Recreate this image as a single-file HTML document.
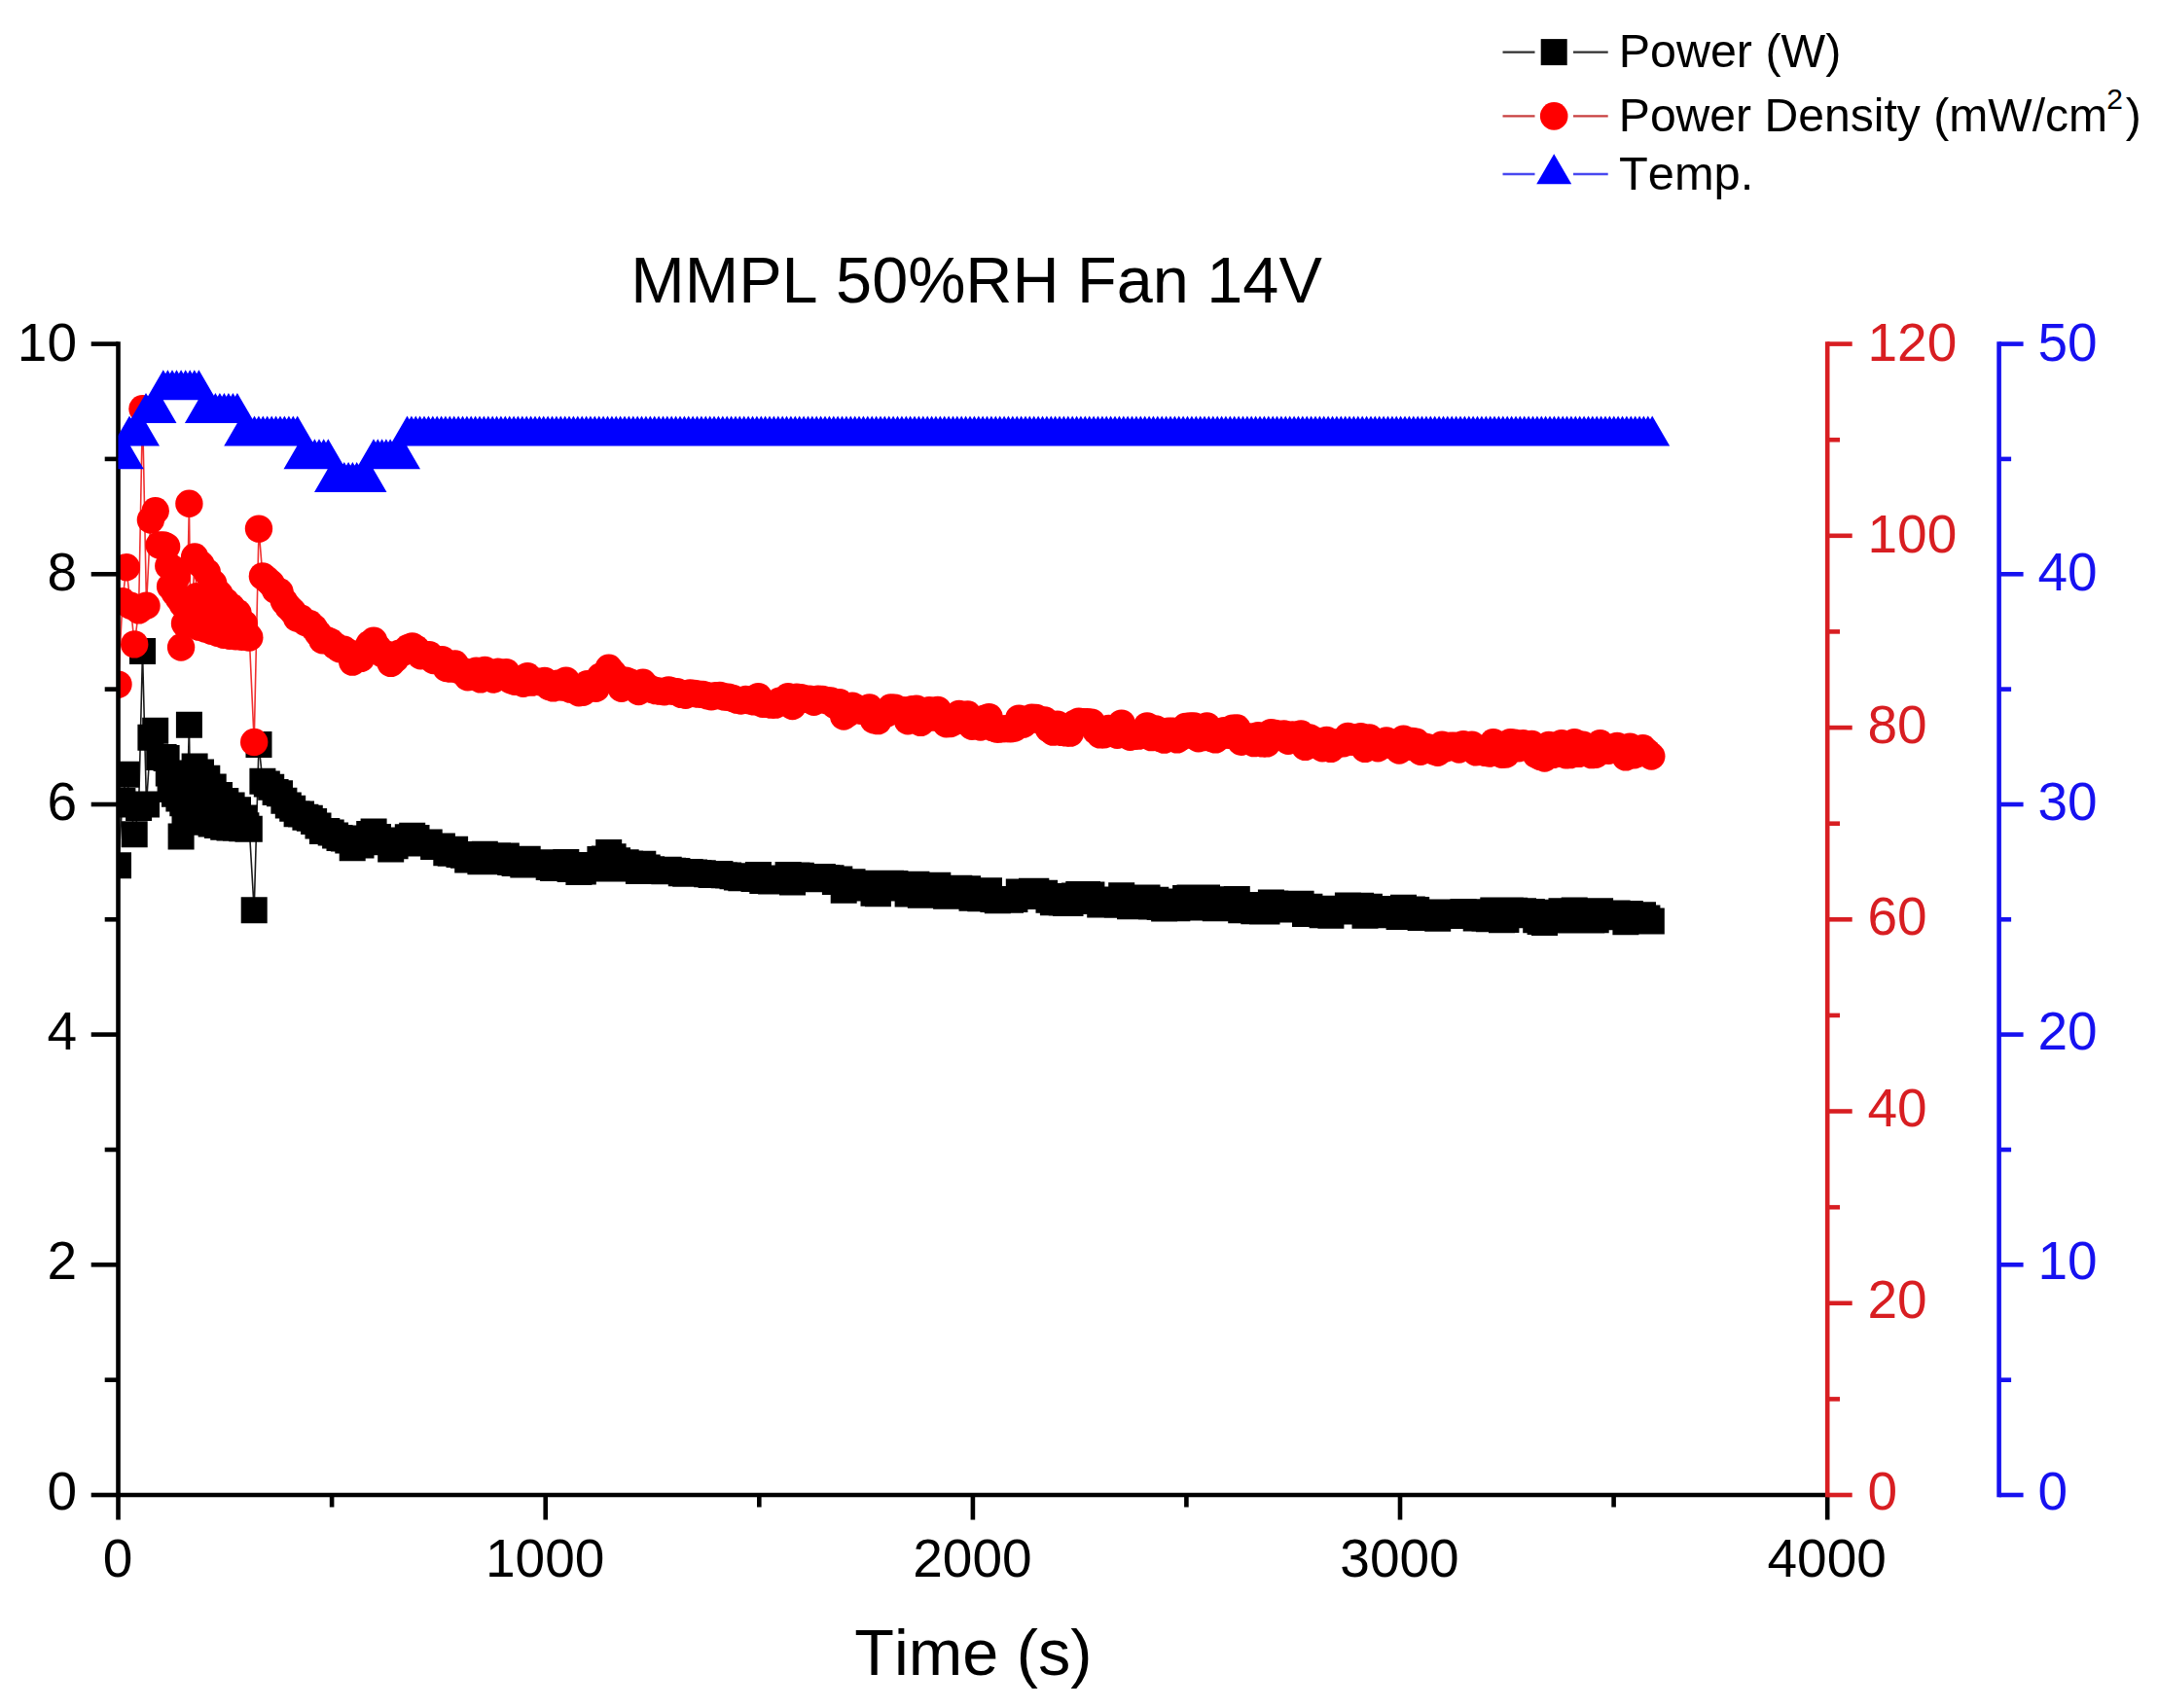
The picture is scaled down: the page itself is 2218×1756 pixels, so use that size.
<!DOCTYPE html>
<html lang="en"><head><meta charset="utf-8"><title>MMPL 50%RH Fan 14V</title>
<style>
html,body{margin:0;padding:0;background:#fff;}
body{width:2218px;height:1756px;overflow:hidden;}
svg{display:block;}
text{font-family:"Liberation Sans",Arial,sans-serif;font-kerning:none;}
.tick{font-size:55px;}
.ttl{font-size:66.6px;}
.leg{font-size:48.4px;}
</style></head><body>
<svg width="2218" height="1756" viewBox="0 0 2218 1756">
<rect x="0" y="0" width="2218" height="1756" fill="#ffffff"/>
<defs><clipPath id="plot"><rect x="121.5" y="340" width="1760" height="1197"/></clipPath></defs>
<g clip-path="url(#plot)">
<path d="M121.5 889.7 L125.9 823.4 L129.8 796.2 L134.2 827 L138.2 857.7 L142.6 830.5 L146.5 669.6 L150.5 827 L154.9 758.3 L159.7 751.2 L163.7 778.4 L168.1 778.4 L171.1 779.6 L173.3 795 L175.1 811.6 L177.3 797.4 L179.5 816.3 L181.7 803.3 L183.9 821 L186.1 860.1 L187.8 825.8 L190 841.2 L192.2 830.5 L194.4 745.3 L195.7 836.4 L197 841.2 L200.1 787.9 L202.3 819.5 L204.4 843.9 L206.5 794.1 L208.6 822.9 L210.7 845.3 L212.8 800.2 L215 827 L217.1 847 L219.2 809 L221.3 831.7 L223.4 848.6 L225.5 817.6 L227.6 836.5 L229.7 850.3 L231.8 823.5 L233.9 839.1 L236 851 L238.1 828.1 L240.3 841.5 L242.4 851.3 L244.5 832.8 L246.6 843.8 L248.7 851.8 L250.8 841 L252.9 848.7 L255 852.2 L256.3 852.3 L261.2 935.8 L266 765.4 L269.9 803.3 L274.3 806.1 L278.7 809.2 L283.1 814.5 L287.5 815.8 L291.9 823.3 L296.3 827.9 L300.7 831.3 L305.1 836.8 L309.5 837 L313.9 840.2 L318.3 841.3 L322.6 844.5 L327 849 L331.4 854.4 L335.8 854.5 L340.2 856 L344.6 859 L349 861.5 L353.4 861.9 L357.8 864.1 L362.2 871.8 L366.6 867.6 L371 869 L375.3 862.6 L379.7 857.5 L384.1 854.9 L388.5 860.6 L392.9 865.4 L397.3 865.7 L401.7 872.9 L406.1 869.7 L410.5 864.8 L414.9 864 L419.3 860.7 L423.7 859.3 L428 861.5 L432.4 867 L436.8 865.9 L441.2 866 L445.6 870.6 L450 870.4 L454.4 869.9 L458.8 876.8 L463.2 877.3 L467.6 873.3 L472 878.6 L476.4 879.3 L480.7 884 L485.1 883.5 L489.5 878.8 L493.9 885.7 L498.3 878.3 L502.7 881.5 L507.1 885.8 L511.5 879.7 L515.9 883.5 L520.3 880 L524.7 886.4 L529.1 887.6 L533.4 885.8 L537.8 889 L542.2 883.3 L546.6 888.1 L551 887.3 L555.4 887.8 L559.8 886.8 L564.2 891.6 L568.6 892.6 L573 889 L577.4 891.9 L581.8 886.6 L586.1 893.6 L590.5 893.6 L594.9 896.4 L599.3 896 L603.7 889.4 L608.1 890 L612.5 893 L616.9 883.5 L621.3 882.9 L625.7 876.5 L630.1 880.7 L634.5 884.8 L638.8 893 L643.2 886.7 L647.6 888 L652 889.9 L656.4 895.5 L660.8 888.3 L665.2 891.9 L669.6 893.7 L674 894.8 L678.4 895.1 L682.8 895.7 L687.2 894.3 L691.5 895.2 L695.9 895.6 L700.3 897.7 L704.7 898.3 L709.1 896.5 L713.5 897 L717.9 897.5 L722.3 897.7 L726.7 898.8 L731.1 899.5 L735.5 898.7 L739.9 898.6 L744.3 899.7 L748.6 899.9 L753 900.8 L757.4 902.1 L761.8 902.8 L766.2 901.6 L770.6 902.8 L775 903.5 L779.4 899.4 L783.8 905.4 L788.2 905.3 L792.6 906 L797 906 L801.3 902.9 L805.7 903.3 L810.1 899.4 L814.5 907.1 L818.9 899.9 L823.3 900.2 L827.7 901.5 L832.1 901.4 L836.5 903.8 L840.9 901.4 L845.3 901.6 L849.7 902.6 L854 902.8 L858.4 906.5 L862.8 904.1 L867.2 915.2 L871.6 912.9 L876 906.8 L880.4 908.6 L884.8 910.7 L889.2 911.1 L893.6 908.3 L898 918.2 L902.4 918.8 L906.7 912.8 L911.1 913.1 L915.5 908.3 L919.9 908.5 L924.3 911.3 L928.7 910.4 L933.1 918.9 L937.5 909.7 L941.9 909.2 L946.3 920.2 L950.7 915.5 L955.1 910.3 L959.4 916.1 L963.8 910.2 L968.2 916.2 L972.6 921.3 L977 921 L981.4 919.4 L985.8 913.2 L990.2 915.5 L994.6 913.7 L999 923.2 L1003.4 920 L1007.8 923.8 L1012.1 916.9 L1016.5 915.7 L1020.9 924.6 L1025.3 925.7 L1029.7 925.3 L1034.1 925.1 L1038.5 925.3 L1042.9 924.6 L1047.3 916.9 L1051.7 921.5 L1056.1 919 L1060.5 916.2 L1064.8 916.3 L1069.2 918.4 L1073.6 918.3 L1078 925.3 L1082.4 927.8 L1086.8 921.6 L1091.2 928 L1095.6 928.4 L1100 928.5 L1104.4 921 L1108.8 919.4 L1113.2 919.7 L1117.5 919.6 L1121.9 920 L1126.3 926.6 L1130.7 929.9 L1135.1 929.8 L1139.5 924.9 L1143.9 928 L1148.3 930.2 L1152.7 920.8 L1157.1 929 L1161.5 931.8 L1165.9 931 L1170.2 930.9 L1174.6 927 L1179 922.9 L1183.4 932 L1187.8 925.3 L1192.2 932.6 L1196.6 933.9 L1201 927 L1205.4 927 L1209.8 933.8 L1214.2 931.8 L1218.6 923.4 L1223 922.9 L1227.3 923.1 L1231.7 932.9 L1236.1 932 L1240.5 922.9 L1244.9 932.8 L1249.3 933.8 L1253.7 931.3 L1258.1 926.6 L1262.5 930.3 L1266.9 924.7 L1271.3 924.6 L1275.7 935.7 L1280 933.1 L1284.4 931.5 L1288.8 936.7 L1293.2 930.5 L1297.6 936.9 L1302 936.9 L1306.4 928.1 L1310.8 928.9 L1315.2 929.7 L1319.6 929.2 L1324 934.9 L1328.4 929.9 L1332.7 932.5 L1337.1 929.2 L1341.5 939.6 L1345.9 932.3 L1350.3 934.2 L1354.7 936.5 L1359.1 940.7 L1363.5 934.3 L1367.9 941.2 L1372.3 936.2 L1376.7 936.9 L1381.1 936.8 L1385.4 931.1 L1389.8 935.6 L1394.2 932 L1398.6 931.3 L1403 941.2 L1407.4 932.3 L1411.8 936.5 L1416.2 940.7 L1420.6 938.3 L1425 934.6 L1429.4 938.1 L1433.8 938.9 L1438.1 942.5 L1442.5 933.2 L1446.9 939.6 L1451.3 935 L1455.7 935.6 L1460.1 943.4 L1464.5 939.5 L1468.9 940.3 L1473.3 943.1 L1477.7 944.2 L1482.1 938 L1486.5 940.7 L1490.8 938.8 L1495.2 938.8 L1499.6 941.6 L1504 937.6 L1508.4 938.9 L1512.8 937.8 L1517.2 943.9 L1521.6 942.1 L1526 944.2 L1530.4 944.8 L1534.8 936.1 L1539.2 941.2 L1543.5 945.8 L1547.9 945.5 L1552.3 936.1 L1556.7 936.3 L1561.1 940.7 L1565.5 936.7 L1569.9 938.3 L1574.3 937.4 L1578.7 945.7 L1583.1 947.4 L1587.5 948.6 L1591.9 938.2 L1596.2 945.9 L1600.6 944.7 L1605 936.7 L1609.4 946.1 L1613.8 946 L1618.2 936 L1622.6 945.1 L1627 938 L1631.4 939.9 L1635.8 946 L1640.2 945.8 L1644.6 936.8 L1649 940.8 L1653.3 942.7 L1657.7 940.3 L1662.1 938.9 L1666.5 940.9 L1670.9 947.8 L1675.3 939.4 L1679.7 946.1 L1684.1 944.7 L1688.5 940.7 L1692.9 943.9 L1697.3 947.1" fill="none" stroke="#1a1a1a" stroke-width="1.6"/>
<path d="M108 876.2h27v27h-27zM112.4 809.9h27v27h-27zM116.3 782.7h27v27h-27zM120.7 813.5h27v27h-27zM124.7 844.2h27v27h-27zM129.1 817h27v27h-27zM133 656.1h27v27h-27zM137 813.5h27v27h-27zM141.4 744.8h27v27h-27zM146.2 737.7h27v27h-27zM150.2 764.9h27v27h-27zM154.6 764.9h27v27h-27zM157.6 766.1h27v27h-27zM159.8 781.5h27v27h-27zM161.6 798.1h27v27h-27zM163.8 783.9h27v27h-27zM166 802.8h27v27h-27zM168.2 789.8h27v27h-27zM170.4 807.5h27v27h-27zM172.6 846.6h27v27h-27zM174.3 812.3h27v27h-27zM176.5 827.7h27v27h-27zM178.7 817h27v27h-27zM180.9 731.8h27v27h-27zM182.2 822.9h27v27h-27zM183.5 827.7h27v27h-27zM186.6 774.4h27v27h-27zM188.8 806h27v27h-27zM190.9 830.4h27v27h-27zM193 780.6h27v27h-27zM195.1 809.4h27v27h-27zM197.2 831.8h27v27h-27zM199.3 786.7h27v27h-27zM201.5 813.5h27v27h-27zM203.6 833.5h27v27h-27zM205.7 795.5h27v27h-27zM207.8 818.2h27v27h-27zM209.9 835.1h27v27h-27zM212 804.1h27v27h-27zM214.1 823h27v27h-27zM216.2 836.8h27v27h-27zM218.3 810h27v27h-27zM220.4 825.6h27v27h-27zM222.5 837.5h27v27h-27zM224.6 814.6h27v27h-27zM226.8 828h27v27h-27zM228.9 837.8h27v27h-27zM231 819.3h27v27h-27zM233.1 830.3h27v27h-27zM235.2 838.3h27v27h-27zM237.3 827.5h27v27h-27zM239.4 835.2h27v27h-27zM241.5 838.7h27v27h-27zM242.8 838.8h27v27h-27zM247.7 922.3h27v27h-27zM252.5 751.9h27v27h-27zM256.4 789.8h27v27h-27zM260.8 792.6h27v27h-27zM265.2 795.7h27v27h-27zM269.6 801h27v27h-27zM274 802.3h27v27h-27zM278.4 809.8h27v27h-27zM282.8 814.4h27v27h-27zM287.2 817.8h27v27h-27zM291.6 823.3h27v27h-27zM296 823.5h27v27h-27zM300.4 826.7h27v27h-27zM304.8 827.8h27v27h-27zM309.1 831h27v27h-27zM313.5 835.5h27v27h-27zM317.9 840.9h27v27h-27zM322.3 841h27v27h-27zM326.7 842.5h27v27h-27zM331.1 845.5h27v27h-27zM335.5 848h27v27h-27zM339.9 848.4h27v27h-27zM344.3 850.6h27v27h-27zM348.7 858.3h27v27h-27zM353.1 854.1h27v27h-27zM357.5 855.5h27v27h-27zM361.8 849.1h27v27h-27zM366.2 844h27v27h-27zM370.6 841.4h27v27h-27zM375 847.1h27v27h-27zM379.4 851.9h27v27h-27zM383.8 852.2h27v27h-27zM388.2 859.4h27v27h-27zM392.6 856.2h27v27h-27zM397 851.3h27v27h-27zM401.4 850.5h27v27h-27zM405.8 847.2h27v27h-27zM410.2 845.8h27v27h-27zM414.5 848h27v27h-27zM418.9 853.5h27v27h-27zM423.3 852.4h27v27h-27zM427.7 852.5h27v27h-27zM432.1 857.1h27v27h-27zM436.5 856.9h27v27h-27zM440.9 856.4h27v27h-27zM445.3 863.3h27v27h-27zM449.7 863.8h27v27h-27zM454.1 859.8h27v27h-27zM458.5 865.1h27v27h-27zM462.9 865.8h27v27h-27zM467.2 870.5h27v27h-27zM471.6 870h27v27h-27zM476 865.3h27v27h-27zM480.4 872.2h27v27h-27zM484.8 864.8h27v27h-27zM489.2 868h27v27h-27zM493.6 872.3h27v27h-27zM498 866.2h27v27h-27zM502.4 870h27v27h-27zM506.8 866.5h27v27h-27zM511.2 872.9h27v27h-27zM515.6 874.1h27v27h-27zM519.9 872.3h27v27h-27zM524.3 875.5h27v27h-27zM528.7 869.8h27v27h-27zM533.1 874.6h27v27h-27zM537.5 873.8h27v27h-27zM541.9 874.3h27v27h-27zM546.3 873.3h27v27h-27zM550.7 878.1h27v27h-27zM555.1 879.1h27v27h-27zM559.5 875.5h27v27h-27zM563.9 878.4h27v27h-27zM568.3 873.1h27v27h-27zM572.6 880.1h27v27h-27zM577 880.1h27v27h-27zM581.4 882.9h27v27h-27zM585.8 882.5h27v27h-27zM590.2 875.9h27v27h-27zM594.6 876.5h27v27h-27zM599 879.5h27v27h-27zM603.4 870h27v27h-27zM607.8 869.4h27v27h-27zM612.2 863h27v27h-27zM616.6 867.2h27v27h-27zM621 871.3h27v27h-27zM625.3 879.5h27v27h-27zM629.7 873.2h27v27h-27zM634.1 874.5h27v27h-27zM638.5 876.4h27v27h-27zM642.9 882h27v27h-27zM647.3 874.8h27v27h-27zM651.7 878.4h27v27h-27zM656.1 880.2h27v27h-27zM660.5 881.3h27v27h-27zM664.9 881.6h27v27h-27zM669.3 882.2h27v27h-27zM673.7 880.8h27v27h-27zM678 881.7h27v27h-27zM682.4 882.1h27v27h-27zM686.8 884.2h27v27h-27zM691.2 884.8h27v27h-27zM695.6 883h27v27h-27zM700 883.5h27v27h-27zM704.4 884h27v27h-27zM708.8 884.2h27v27h-27zM713.2 885.3h27v27h-27zM717.6 886h27v27h-27zM722 885.2h27v27h-27zM726.4 885.1h27v27h-27zM730.8 886.2h27v27h-27zM735.1 886.4h27v27h-27zM739.5 887.3h27v27h-27zM743.9 888.6h27v27h-27zM748.3 889.3h27v27h-27zM752.7 888.1h27v27h-27zM757.1 889.3h27v27h-27zM761.5 890h27v27h-27zM765.9 885.9h27v27h-27zM770.3 891.9h27v27h-27zM774.7 891.8h27v27h-27zM779.1 892.5h27v27h-27zM783.5 892.5h27v27h-27zM787.8 889.4h27v27h-27zM792.2 889.8h27v27h-27zM796.6 885.9h27v27h-27zM801 893.6h27v27h-27zM805.4 886.4h27v27h-27zM809.8 886.7h27v27h-27zM814.2 888h27v27h-27zM818.6 887.9h27v27h-27zM823 890.3h27v27h-27zM827.4 887.9h27v27h-27zM831.8 888.1h27v27h-27zM836.2 889.1h27v27h-27zM840.5 889.3h27v27h-27zM844.9 893h27v27h-27zM849.3 890.6h27v27h-27zM853.7 901.7h27v27h-27zM858.1 899.4h27v27h-27zM862.5 893.3h27v27h-27zM866.9 895.1h27v27h-27zM871.3 897.2h27v27h-27zM875.7 897.6h27v27h-27zM880.1 894.8h27v27h-27zM884.5 904.7h27v27h-27zM888.9 905.3h27v27h-27zM893.2 899.3h27v27h-27zM897.6 899.6h27v27h-27zM902 894.8h27v27h-27zM906.4 895h27v27h-27zM910.8 897.8h27v27h-27zM915.2 896.9h27v27h-27zM919.6 905.4h27v27h-27zM924 896.2h27v27h-27zM928.4 895.7h27v27h-27zM932.8 906.7h27v27h-27zM937.2 902h27v27h-27zM941.6 896.8h27v27h-27zM945.9 902.6h27v27h-27zM950.3 896.7h27v27h-27zM954.7 902.7h27v27h-27zM959.1 907.8h27v27h-27zM963.5 907.5h27v27h-27zM967.9 905.9h27v27h-27zM972.3 899.7h27v27h-27zM976.7 902h27v27h-27zM981.1 900.2h27v27h-27zM985.5 909.7h27v27h-27zM989.9 906.5h27v27h-27zM994.3 910.3h27v27h-27zM998.6 903.4h27v27h-27zM1003 902.2h27v27h-27zM1007.4 911.1h27v27h-27zM1011.8 912.2h27v27h-27zM1016.2 911.8h27v27h-27zM1020.6 911.6h27v27h-27zM1025 911.8h27v27h-27zM1029.4 911.1h27v27h-27zM1033.8 903.4h27v27h-27zM1038.2 908h27v27h-27zM1042.6 905.5h27v27h-27zM1047 902.7h27v27h-27zM1051.3 902.8h27v27h-27zM1055.7 904.9h27v27h-27zM1060.1 904.8h27v27h-27zM1064.5 911.8h27v27h-27zM1068.9 914.3h27v27h-27zM1073.3 908.1h27v27h-27zM1077.7 914.5h27v27h-27zM1082.1 914.9h27v27h-27zM1086.5 915h27v27h-27zM1090.9 907.5h27v27h-27zM1095.3 905.9h27v27h-27zM1099.7 906.2h27v27h-27zM1104 906.1h27v27h-27zM1108.4 906.5h27v27h-27zM1112.8 913.1h27v27h-27zM1117.2 916.4h27v27h-27zM1121.6 916.3h27v27h-27zM1126 911.4h27v27h-27zM1130.4 914.5h27v27h-27zM1134.8 916.7h27v27h-27zM1139.2 907.3h27v27h-27zM1143.6 915.5h27v27h-27zM1148 918.3h27v27h-27zM1152.4 917.5h27v27h-27zM1156.7 917.4h27v27h-27zM1161.1 913.5h27v27h-27zM1165.5 909.4h27v27h-27zM1169.9 918.5h27v27h-27zM1174.3 911.8h27v27h-27zM1178.7 919.1h27v27h-27zM1183.1 920.4h27v27h-27zM1187.5 913.5h27v27h-27zM1191.9 913.5h27v27h-27zM1196.3 920.3h27v27h-27zM1200.7 918.3h27v27h-27zM1205.1 909.9h27v27h-27zM1209.5 909.4h27v27h-27zM1213.8 909.6h27v27h-27zM1218.2 919.4h27v27h-27zM1222.6 918.5h27v27h-27zM1227 909.4h27v27h-27zM1231.4 919.3h27v27h-27zM1235.8 920.3h27v27h-27zM1240.2 917.8h27v27h-27zM1244.6 913.1h27v27h-27zM1249 916.8h27v27h-27zM1253.4 911.2h27v27h-27zM1257.8 911.1h27v27h-27zM1262.2 922.2h27v27h-27zM1266.5 919.6h27v27h-27zM1270.9 918h27v27h-27zM1275.3 923.2h27v27h-27zM1279.7 917h27v27h-27zM1284.1 923.4h27v27h-27zM1288.5 923.4h27v27h-27zM1292.9 914.6h27v27h-27zM1297.3 915.4h27v27h-27zM1301.7 916.2h27v27h-27zM1306.1 915.7h27v27h-27zM1310.5 921.4h27v27h-27zM1314.9 916.4h27v27h-27zM1319.2 919h27v27h-27zM1323.6 915.7h27v27h-27zM1328 926.1h27v27h-27zM1332.4 918.8h27v27h-27zM1336.8 920.7h27v27h-27zM1341.2 923h27v27h-27zM1345.6 927.2h27v27h-27zM1350 920.8h27v27h-27zM1354.4 927.7h27v27h-27zM1358.8 922.7h27v27h-27zM1363.2 923.4h27v27h-27zM1367.6 923.3h27v27h-27zM1371.9 917.6h27v27h-27zM1376.3 922.1h27v27h-27zM1380.7 918.5h27v27h-27zM1385.1 917.8h27v27h-27zM1389.5 927.7h27v27h-27zM1393.9 918.8h27v27h-27zM1398.3 923h27v27h-27zM1402.7 927.2h27v27h-27zM1407.1 924.8h27v27h-27zM1411.5 921.1h27v27h-27zM1415.9 924.6h27v27h-27zM1420.3 925.4h27v27h-27zM1424.6 929h27v27h-27zM1429 919.7h27v27h-27zM1433.4 926.1h27v27h-27zM1437.8 921.5h27v27h-27zM1442.2 922.1h27v27h-27zM1446.6 929.9h27v27h-27zM1451 926h27v27h-27zM1455.4 926.8h27v27h-27zM1459.8 929.6h27v27h-27zM1464.2 930.7h27v27h-27zM1468.6 924.5h27v27h-27zM1473 927.2h27v27h-27zM1477.3 925.3h27v27h-27zM1481.7 925.3h27v27h-27zM1486.1 928.1h27v27h-27zM1490.5 924.1h27v27h-27zM1494.9 925.4h27v27h-27zM1499.3 924.3h27v27h-27zM1503.7 930.4h27v27h-27zM1508.1 928.6h27v27h-27zM1512.5 930.7h27v27h-27zM1516.9 931.3h27v27h-27zM1521.3 922.6h27v27h-27zM1525.7 927.7h27v27h-27zM1530 932.3h27v27h-27zM1534.4 932h27v27h-27zM1538.8 922.6h27v27h-27zM1543.2 922.8h27v27h-27zM1547.6 927.2h27v27h-27zM1552 923.2h27v27h-27zM1556.4 924.8h27v27h-27zM1560.8 923.9h27v27h-27zM1565.2 932.2h27v27h-27zM1569.6 933.9h27v27h-27zM1574 935.1h27v27h-27zM1578.4 924.7h27v27h-27zM1582.7 932.4h27v27h-27zM1587.1 931.2h27v27h-27zM1591.5 923.2h27v27h-27zM1595.9 932.6h27v27h-27zM1600.3 932.5h27v27h-27zM1604.7 922.5h27v27h-27zM1609.1 931.6h27v27h-27zM1613.5 924.5h27v27h-27zM1617.9 926.4h27v27h-27zM1622.3 932.5h27v27h-27zM1626.7 932.3h27v27h-27zM1631.1 923.3h27v27h-27zM1635.5 927.3h27v27h-27zM1639.8 929.2h27v27h-27zM1644.2 926.8h27v27h-27zM1648.6 925.4h27v27h-27zM1653 927.4h27v27h-27zM1657.4 934.3h27v27h-27zM1661.8 925.9h27v27h-27zM1666.2 932.6h27v27h-27zM1670.6 931.2h27v27h-27zM1675 927.2h27v27h-27zM1679.4 930.4h27v27h-27zM1683.8 933.6h27v27h-27z" fill="#000000"/>
<path d="M121.5 703.6 L125.9 618.3 L129.8 583.2 L134.2 622.8 L138.2 662.4 L142.6 627.4 L146.5 420.2 L150.5 622.8 L154.9 534.5 L159.7 525.3 L163.7 560.4 L168.1 560.4 L171.1 561.9 L173.3 581.7 L175.1 603 L177.3 584.7 L179.5 609.1 L181.7 592.4 L183.9 615.2 L186.1 665.5 L187.8 621.3 L190 641.1 L192.2 627.4 L194.4 517.7 L195.7 635 L197 641.1 L200.1 572.5 L202.3 613.2 L204.4 644.6 L206.5 580.5 L208.6 617.6 L210.7 646.4 L212.8 588.4 L215 622.8 L217.1 648.6 L219.2 599.7 L221.3 628.9 L223.4 650.7 L225.5 610.8 L227.6 635.2 L229.7 652.8 L231.8 618.4 L233.9 638.5 L236 653.8 L238.1 624.3 L240.3 641.6 L242.4 654.2 L244.5 630.3 L246.6 644.5 L248.7 654.8 L250.8 641 L252.9 650.9 L255 655.3 L256.3 655.4 L261.2 763 L266 543.6 L269.9 592.4 L274.3 596 L278.7 600 L283.1 606.8 L287.5 608.5 L291.9 618.1 L296.3 624 L300.7 628.5 L305.1 635.5 L309.5 635.8 L313.9 639.9 L318.3 641.3 L322.6 645.4 L327 651.2 L331.4 658.2 L335.8 658.3 L340.2 660.2 L344.6 664.1 L349 667.3 L353.4 667.8 L357.8 670.7 L362.2 680.6 L366.6 675.1 L371 676.9 L375.3 668.7 L379.7 662.1 L384.1 658.8 L388.5 666.1 L392.9 672.3 L397.3 672.6 L401.7 681.9 L406.1 677.8 L410.5 671.6 L414.9 670.5 L419.3 666.2 L423.7 664.4 L428 667.3 L432.4 674.3 L436.8 673 L441.2 673.1 L445.6 679 L450 678.7 L454.4 678.1 L458.8 687 L463.2 687.6 L467.6 682.5 L472 689.3 L476.4 690.2 L480.7 696.3 L485.1 695.7 L489.5 689.6 L493.9 698.4 L498.3 688.9 L502.7 693.1 L507.1 698.5 L511.5 690.8 L515.9 695.7 L520.3 691.1 L524.7 699.3 L529.1 700.8 L533.4 698.5 L537.8 702.7 L542.2 695.3 L546.6 701.6 L551 700.5 L555.4 701.1 L559.8 699.9 L564.2 706 L568.6 707.4 L573 702.7 L577.4 706.5 L581.8 699.6 L586.1 708.6 L590.5 708.6 L594.9 712.3 L599.3 711.7 L603.7 703.3 L608.1 704 L612.5 707.8 L616.9 695.7 L621.3 694.9 L625.7 686.7 L630.1 692 L634.5 697.3 L638.8 707.8 L643.2 699.8 L647.6 701.4 L652 703.9 L656.4 711 L660.8 701.7 L665.2 706.5 L669.6 708.8 L674 710.1 L678.4 710.6 L682.8 711.3 L687.2 709.5 L691.5 710.7 L695.9 711.2 L700.3 713.9 L704.7 714.7 L709.1 712.4 L713.5 713 L717.9 713.6 L722.3 713.9 L726.7 715.3 L731.1 716.2 L735.5 715.2 L739.9 715 L744.3 716.5 L748.6 716.7 L753 717.9 L757.4 719.6 L761.8 720.5 L766.2 719 L770.6 720.5 L775 721.4 L779.4 716.1 L783.8 723.8 L788.2 723.7 L792.6 724.6 L797 724.6 L801.3 720.6 L805.7 721.1 L810.1 716.1 L814.5 726 L818.9 716.7 L823.3 717.1 L827.7 718.8 L832.1 718.7 L836.5 721.7 L840.9 718.7 L845.3 719 L849.7 720.2 L854 720.5 L858.4 725.2 L862.8 722.2 L867.2 736.5 L871.6 733.4 L876 725.7 L880.4 728 L884.8 730.7 L889.2 731.2 L893.6 727.5 L898 740.3 L902.4 741.1 L906.7 733.3 L911.1 733.7 L915.5 727.5 L919.9 727.8 L924.3 731.5 L928.7 730.2 L933.1 741.2 L937.5 729.3 L941.9 728.7 L946.3 742.9 L950.7 736.8 L955.1 730.1 L959.4 737.6 L963.8 729.9 L968.2 737.7 L972.6 744.3 L977 744 L981.4 741.8 L985.8 733.9 L990.2 736.8 L994.6 734.5 L999 746.7 L1003.4 742.6 L1007.8 747.5 L1012.1 738.6 L1016.5 737.1 L1020.9 748.5 L1025.3 749.9 L1029.7 749.4 L1034.1 749.1 L1038.5 749.4 L1042.9 748.5 L1047.3 738.6 L1051.7 744.6 L1056.1 741.4 L1060.5 737.7 L1064.8 737.9 L1069.2 740.6 L1073.6 740.4 L1078 749.4 L1082.4 752.6 L1086.8 744.7 L1091.2 752.9 L1095.6 753.4 L1100 753.6 L1104.4 744 L1108.8 741.8 L1113.2 742.3 L1117.5 742.1 L1121.9 742.6 L1126.3 751.1 L1130.7 755.4 L1135.1 755.2 L1139.5 749 L1143.9 752.9 L1148.3 755.7 L1152.7 743.6 L1157.1 754.2 L1161.5 757.8 L1165.9 756.8 L1170.2 756.6 L1174.6 751.6 L1179 746.4 L1183.4 758.1 L1187.8 749.4 L1192.2 758.9 L1196.6 760.6 L1201 751.6 L1205.4 751.6 L1209.8 760.4 L1214.2 757.8 L1218.6 747 L1223 746.4 L1227.3 746.5 L1231.7 759.2 L1236.1 758.1 L1240.5 746.4 L1244.9 759 L1249.3 760.4 L1253.7 757.2 L1258.1 751.1 L1262.5 755.8 L1266.9 748.7 L1271.3 748.5 L1275.7 762.8 L1280 759.5 L1284.4 757.4 L1288.8 764.1 L1293.2 756.1 L1297.6 764.4 L1302 764.4 L1306.4 753.1 L1310.8 754 L1315.2 755.1 L1319.6 754.5 L1324 761.8 L1328.4 755.4 L1332.7 758.7 L1337.1 754.5 L1341.5 767.9 L1345.9 758.4 L1350.3 760.9 L1354.7 763.9 L1359.1 769.2 L1363.5 761 L1367.9 769.9 L1372.3 763.5 L1376.7 764.4 L1381.1 764.2 L1385.4 756.9 L1389.8 762.7 L1394.2 758.1 L1398.6 757.2 L1403 769.9 L1407.4 758.4 L1411.8 763.9 L1416.2 769.2 L1420.6 766.2 L1425 761.5 L1429.4 765.9 L1433.8 767 L1438.1 771.5 L1442.5 759.6 L1446.9 767.9 L1451.3 761.9 L1455.7 762.7 L1460.1 772.7 L1464.5 767.7 L1468.9 768.8 L1473.3 772.3 L1477.7 773.8 L1482.1 765.7 L1486.5 769.2 L1490.8 766.8 L1495.2 766.8 L1499.6 770.5 L1504 765.3 L1508.4 767 L1512.8 765.6 L1517.2 773.4 L1521.6 771.1 L1526 773.8 L1530.4 774.6 L1534.8 763.3 L1539.2 769.9 L1543.5 775.8 L1547.9 775.5 L1552.3 763.3 L1556.7 763.6 L1561.1 769.2 L1565.5 764.1 L1569.9 766.2 L1574.3 765 L1578.7 775.6 L1583.1 777.9 L1587.5 779.5 L1591.9 766 L1596.2 775.9 L1600.6 774.4 L1605 764.1 L1609.4 776.3 L1613.8 776.1 L1618.2 763.1 L1622.6 774.9 L1627 765.7 L1631.4 768.2 L1635.8 776.1 L1640.2 775.8 L1644.6 764.2 L1649 769.4 L1653.3 771.8 L1657.7 768.8 L1662.1 767 L1666.5 769.5 L1670.9 778.4 L1675.3 767.6 L1679.7 776.3 L1684.1 774.4 L1688.5 769.2 L1692.9 773.4 L1697.3 777.5" fill="none" stroke="#f03030" stroke-width="1.6"/>
<g fill="#ff0000">
<circle cx="121.5" cy="703.6" r="14.2"/>
<circle cx="125.9" cy="618.3" r="14.2"/>
<circle cx="129.8" cy="583.2" r="14.2"/>
<circle cx="134.2" cy="622.8" r="14.2"/>
<circle cx="138.2" cy="662.4" r="14.2"/>
<circle cx="142.6" cy="627.4" r="14.2"/>
<circle cx="146.5" cy="420.2" r="14.2"/>
<circle cx="150.5" cy="622.8" r="14.2"/>
<circle cx="154.9" cy="534.5" r="14.2"/>
<circle cx="159.7" cy="525.3" r="14.2"/>
<circle cx="163.7" cy="560.4" r="14.2"/>
<circle cx="168.1" cy="560.4" r="14.2"/>
<circle cx="171.1" cy="561.9" r="14.2"/>
<circle cx="173.3" cy="581.7" r="14.2"/>
<circle cx="175.1" cy="603" r="14.2"/>
<circle cx="177.3" cy="584.7" r="14.2"/>
<circle cx="179.5" cy="609.1" r="14.2"/>
<circle cx="181.7" cy="592.4" r="14.2"/>
<circle cx="183.9" cy="615.2" r="14.2"/>
<circle cx="186.1" cy="665.5" r="14.2"/>
<circle cx="187.8" cy="621.3" r="14.2"/>
<circle cx="190" cy="641.1" r="14.2"/>
<circle cx="192.2" cy="627.4" r="14.2"/>
<circle cx="194.4" cy="517.7" r="14.2"/>
<circle cx="195.7" cy="635" r="14.2"/>
<circle cx="197" cy="641.1" r="14.2"/>
<circle cx="200.1" cy="572.5" r="14.2"/>
<circle cx="202.3" cy="613.2" r="14.2"/>
<circle cx="204.4" cy="644.6" r="14.2"/>
<circle cx="206.5" cy="580.5" r="14.2"/>
<circle cx="208.6" cy="617.6" r="14.2"/>
<circle cx="210.7" cy="646.4" r="14.2"/>
<circle cx="212.8" cy="588.4" r="14.2"/>
<circle cx="215" cy="622.8" r="14.2"/>
<circle cx="217.1" cy="648.6" r="14.2"/>
<circle cx="219.2" cy="599.7" r="14.2"/>
<circle cx="221.3" cy="628.9" r="14.2"/>
<circle cx="223.4" cy="650.7" r="14.2"/>
<circle cx="225.5" cy="610.8" r="14.2"/>
<circle cx="227.6" cy="635.2" r="14.2"/>
<circle cx="229.7" cy="652.8" r="14.2"/>
<circle cx="231.8" cy="618.4" r="14.2"/>
<circle cx="233.9" cy="638.5" r="14.2"/>
<circle cx="236" cy="653.8" r="14.2"/>
<circle cx="238.1" cy="624.3" r="14.2"/>
<circle cx="240.3" cy="641.6" r="14.2"/>
<circle cx="242.4" cy="654.2" r="14.2"/>
<circle cx="244.5" cy="630.3" r="14.2"/>
<circle cx="246.6" cy="644.5" r="14.2"/>
<circle cx="248.7" cy="654.8" r="14.2"/>
<circle cx="250.8" cy="641" r="14.2"/>
<circle cx="252.9" cy="650.9" r="14.2"/>
<circle cx="255" cy="655.3" r="14.2"/>
<circle cx="256.3" cy="655.4" r="14.2"/>
<circle cx="261.2" cy="763" r="14.2"/>
<circle cx="266" cy="543.6" r="14.2"/>
<circle cx="269.9" cy="592.4" r="14.2"/>
<circle cx="274.3" cy="596" r="14.2"/>
<circle cx="278.7" cy="600" r="14.2"/>
<circle cx="283.1" cy="606.8" r="14.2"/>
<circle cx="287.5" cy="608.5" r="14.2"/>
<circle cx="291.9" cy="618.1" r="14.2"/>
<circle cx="296.3" cy="624" r="14.2"/>
<circle cx="300.7" cy="628.5" r="14.2"/>
<circle cx="305.1" cy="635.5" r="14.2"/>
<circle cx="309.5" cy="635.8" r="14.2"/>
<circle cx="313.9" cy="639.9" r="14.2"/>
<circle cx="318.3" cy="641.3" r="14.2"/>
<circle cx="322.6" cy="645.4" r="14.2"/>
<circle cx="327" cy="651.2" r="14.2"/>
<circle cx="331.4" cy="658.2" r="14.2"/>
<circle cx="335.8" cy="658.3" r="14.2"/>
<circle cx="340.2" cy="660.2" r="14.2"/>
<circle cx="344.6" cy="664.1" r="14.2"/>
<circle cx="349" cy="667.3" r="14.2"/>
<circle cx="353.4" cy="667.8" r="14.2"/>
<circle cx="357.8" cy="670.7" r="14.2"/>
<circle cx="362.2" cy="680.6" r="14.2"/>
<circle cx="366.6" cy="675.1" r="14.2"/>
<circle cx="371" cy="676.9" r="14.2"/>
<circle cx="375.3" cy="668.7" r="14.2"/>
<circle cx="379.7" cy="662.1" r="14.2"/>
<circle cx="384.1" cy="658.8" r="14.2"/>
<circle cx="388.5" cy="666.1" r="14.2"/>
<circle cx="392.9" cy="672.3" r="14.2"/>
<circle cx="397.3" cy="672.6" r="14.2"/>
<circle cx="401.7" cy="681.9" r="14.2"/>
<circle cx="406.1" cy="677.8" r="14.2"/>
<circle cx="410.5" cy="671.6" r="14.2"/>
<circle cx="414.9" cy="670.5" r="14.2"/>
<circle cx="419.3" cy="666.2" r="14.2"/>
<circle cx="423.7" cy="664.4" r="14.2"/>
<circle cx="428" cy="667.3" r="14.2"/>
<circle cx="432.4" cy="674.3" r="14.2"/>
<circle cx="436.8" cy="673" r="14.2"/>
<circle cx="441.2" cy="673.1" r="14.2"/>
<circle cx="445.6" cy="679" r="14.2"/>
<circle cx="450" cy="678.7" r="14.2"/>
<circle cx="454.4" cy="678.1" r="14.2"/>
<circle cx="458.8" cy="687" r="14.2"/>
<circle cx="463.2" cy="687.6" r="14.2"/>
<circle cx="467.6" cy="682.5" r="14.2"/>
<circle cx="472" cy="689.3" r="14.2"/>
<circle cx="476.4" cy="690.2" r="14.2"/>
<circle cx="480.7" cy="696.3" r="14.2"/>
<circle cx="485.1" cy="695.7" r="14.2"/>
<circle cx="489.5" cy="689.6" r="14.2"/>
<circle cx="493.9" cy="698.4" r="14.2"/>
<circle cx="498.3" cy="688.9" r="14.2"/>
<circle cx="502.7" cy="693.1" r="14.2"/>
<circle cx="507.1" cy="698.5" r="14.2"/>
<circle cx="511.5" cy="690.8" r="14.2"/>
<circle cx="515.9" cy="695.7" r="14.2"/>
<circle cx="520.3" cy="691.1" r="14.2"/>
<circle cx="524.7" cy="699.3" r="14.2"/>
<circle cx="529.1" cy="700.8" r="14.2"/>
<circle cx="533.4" cy="698.5" r="14.2"/>
<circle cx="537.8" cy="702.7" r="14.2"/>
<circle cx="542.2" cy="695.3" r="14.2"/>
<circle cx="546.6" cy="701.6" r="14.2"/>
<circle cx="551" cy="700.5" r="14.2"/>
<circle cx="555.4" cy="701.1" r="14.2"/>
<circle cx="559.8" cy="699.9" r="14.2"/>
<circle cx="564.2" cy="706" r="14.2"/>
<circle cx="568.6" cy="707.4" r="14.2"/>
<circle cx="573" cy="702.7" r="14.2"/>
<circle cx="577.4" cy="706.5" r="14.2"/>
<circle cx="581.8" cy="699.6" r="14.2"/>
<circle cx="586.1" cy="708.6" r="14.2"/>
<circle cx="590.5" cy="708.6" r="14.2"/>
<circle cx="594.9" cy="712.3" r="14.2"/>
<circle cx="599.3" cy="711.7" r="14.2"/>
<circle cx="603.7" cy="703.3" r="14.2"/>
<circle cx="608.1" cy="704" r="14.2"/>
<circle cx="612.5" cy="707.8" r="14.2"/>
<circle cx="616.9" cy="695.7" r="14.2"/>
<circle cx="621.3" cy="694.9" r="14.2"/>
<circle cx="625.7" cy="686.7" r="14.2"/>
<circle cx="630.1" cy="692" r="14.2"/>
<circle cx="634.5" cy="697.3" r="14.2"/>
<circle cx="638.8" cy="707.8" r="14.2"/>
<circle cx="643.2" cy="699.8" r="14.2"/>
<circle cx="647.6" cy="701.4" r="14.2"/>
<circle cx="652" cy="703.9" r="14.2"/>
<circle cx="656.4" cy="711" r="14.2"/>
<circle cx="660.8" cy="701.7" r="14.2"/>
<circle cx="665.2" cy="706.5" r="14.2"/>
<circle cx="669.6" cy="708.8" r="14.2"/>
<circle cx="674" cy="710.1" r="14.2"/>
<circle cx="678.4" cy="710.6" r="14.2"/>
<circle cx="682.8" cy="711.3" r="14.2"/>
<circle cx="687.2" cy="709.5" r="14.2"/>
<circle cx="691.5" cy="710.7" r="14.2"/>
<circle cx="695.9" cy="711.2" r="14.2"/>
<circle cx="700.3" cy="713.9" r="14.2"/>
<circle cx="704.7" cy="714.7" r="14.2"/>
<circle cx="709.1" cy="712.4" r="14.2"/>
<circle cx="713.5" cy="713" r="14.2"/>
<circle cx="717.9" cy="713.6" r="14.2"/>
<circle cx="722.3" cy="713.9" r="14.2"/>
<circle cx="726.7" cy="715.3" r="14.2"/>
<circle cx="731.1" cy="716.2" r="14.2"/>
<circle cx="735.5" cy="715.2" r="14.2"/>
<circle cx="739.9" cy="715" r="14.2"/>
<circle cx="744.3" cy="716.5" r="14.2"/>
<circle cx="748.6" cy="716.7" r="14.2"/>
<circle cx="753" cy="717.9" r="14.2"/>
<circle cx="757.4" cy="719.6" r="14.2"/>
<circle cx="761.8" cy="720.5" r="14.2"/>
<circle cx="766.2" cy="719" r="14.2"/>
<circle cx="770.6" cy="720.5" r="14.2"/>
<circle cx="775" cy="721.4" r="14.2"/>
<circle cx="779.4" cy="716.1" r="14.2"/>
<circle cx="783.8" cy="723.8" r="14.2"/>
<circle cx="788.2" cy="723.7" r="14.2"/>
<circle cx="792.6" cy="724.6" r="14.2"/>
<circle cx="797" cy="724.6" r="14.2"/>
<circle cx="801.3" cy="720.6" r="14.2"/>
<circle cx="805.7" cy="721.1" r="14.2"/>
<circle cx="810.1" cy="716.1" r="14.2"/>
<circle cx="814.5" cy="726" r="14.2"/>
<circle cx="818.9" cy="716.7" r="14.2"/>
<circle cx="823.3" cy="717.1" r="14.2"/>
<circle cx="827.7" cy="718.8" r="14.2"/>
<circle cx="832.1" cy="718.7" r="14.2"/>
<circle cx="836.5" cy="721.7" r="14.2"/>
<circle cx="840.9" cy="718.7" r="14.2"/>
<circle cx="845.3" cy="719" r="14.2"/>
<circle cx="849.7" cy="720.2" r="14.2"/>
<circle cx="854" cy="720.5" r="14.2"/>
<circle cx="858.4" cy="725.2" r="14.2"/>
<circle cx="862.8" cy="722.2" r="14.2"/>
<circle cx="867.2" cy="736.5" r="14.2"/>
<circle cx="871.6" cy="733.4" r="14.2"/>
<circle cx="876" cy="725.7" r="14.2"/>
<circle cx="880.4" cy="728" r="14.2"/>
<circle cx="884.8" cy="730.7" r="14.2"/>
<circle cx="889.2" cy="731.2" r="14.2"/>
<circle cx="893.6" cy="727.5" r="14.2"/>
<circle cx="898" cy="740.3" r="14.2"/>
<circle cx="902.4" cy="741.1" r="14.2"/>
<circle cx="906.7" cy="733.3" r="14.2"/>
<circle cx="911.1" cy="733.7" r="14.2"/>
<circle cx="915.5" cy="727.5" r="14.2"/>
<circle cx="919.9" cy="727.8" r="14.2"/>
<circle cx="924.3" cy="731.5" r="14.2"/>
<circle cx="928.7" cy="730.2" r="14.2"/>
<circle cx="933.1" cy="741.2" r="14.2"/>
<circle cx="937.5" cy="729.3" r="14.2"/>
<circle cx="941.9" cy="728.7" r="14.2"/>
<circle cx="946.3" cy="742.9" r="14.2"/>
<circle cx="950.7" cy="736.8" r="14.2"/>
<circle cx="955.1" cy="730.1" r="14.2"/>
<circle cx="959.4" cy="737.6" r="14.2"/>
<circle cx="963.8" cy="729.9" r="14.2"/>
<circle cx="968.2" cy="737.7" r="14.2"/>
<circle cx="972.6" cy="744.3" r="14.2"/>
<circle cx="977" cy="744" r="14.2"/>
<circle cx="981.4" cy="741.8" r="14.2"/>
<circle cx="985.8" cy="733.9" r="14.2"/>
<circle cx="990.2" cy="736.8" r="14.2"/>
<circle cx="994.6" cy="734.5" r="14.2"/>
<circle cx="999" cy="746.7" r="14.2"/>
<circle cx="1003.4" cy="742.6" r="14.2"/>
<circle cx="1007.8" cy="747.5" r="14.2"/>
<circle cx="1012.1" cy="738.6" r="14.2"/>
<circle cx="1016.5" cy="737.1" r="14.2"/>
<circle cx="1020.9" cy="748.5" r="14.2"/>
<circle cx="1025.3" cy="749.9" r="14.2"/>
<circle cx="1029.7" cy="749.4" r="14.2"/>
<circle cx="1034.1" cy="749.1" r="14.2"/>
<circle cx="1038.5" cy="749.4" r="14.2"/>
<circle cx="1042.9" cy="748.5" r="14.2"/>
<circle cx="1047.3" cy="738.6" r="14.2"/>
<circle cx="1051.7" cy="744.6" r="14.2"/>
<circle cx="1056.1" cy="741.4" r="14.2"/>
<circle cx="1060.5" cy="737.7" r="14.2"/>
<circle cx="1064.8" cy="737.9" r="14.2"/>
<circle cx="1069.2" cy="740.6" r="14.2"/>
<circle cx="1073.6" cy="740.4" r="14.2"/>
<circle cx="1078" cy="749.4" r="14.2"/>
<circle cx="1082.4" cy="752.6" r="14.2"/>
<circle cx="1086.8" cy="744.7" r="14.2"/>
<circle cx="1091.2" cy="752.9" r="14.2"/>
<circle cx="1095.6" cy="753.4" r="14.2"/>
<circle cx="1100" cy="753.6" r="14.2"/>
<circle cx="1104.4" cy="744" r="14.2"/>
<circle cx="1108.8" cy="741.8" r="14.2"/>
<circle cx="1113.2" cy="742.3" r="14.2"/>
<circle cx="1117.5" cy="742.1" r="14.2"/>
<circle cx="1121.9" cy="742.6" r="14.2"/>
<circle cx="1126.3" cy="751.1" r="14.2"/>
<circle cx="1130.7" cy="755.4" r="14.2"/>
<circle cx="1135.1" cy="755.2" r="14.2"/>
<circle cx="1139.5" cy="749" r="14.2"/>
<circle cx="1143.9" cy="752.9" r="14.2"/>
<circle cx="1148.3" cy="755.7" r="14.2"/>
<circle cx="1152.7" cy="743.6" r="14.2"/>
<circle cx="1157.1" cy="754.2" r="14.2"/>
<circle cx="1161.5" cy="757.8" r="14.2"/>
<circle cx="1165.9" cy="756.8" r="14.2"/>
<circle cx="1170.2" cy="756.6" r="14.2"/>
<circle cx="1174.6" cy="751.6" r="14.2"/>
<circle cx="1179" cy="746.4" r="14.2"/>
<circle cx="1183.4" cy="758.1" r="14.2"/>
<circle cx="1187.8" cy="749.4" r="14.2"/>
<circle cx="1192.2" cy="758.9" r="14.2"/>
<circle cx="1196.6" cy="760.6" r="14.2"/>
<circle cx="1201" cy="751.6" r="14.2"/>
<circle cx="1205.4" cy="751.6" r="14.2"/>
<circle cx="1209.8" cy="760.4" r="14.2"/>
<circle cx="1214.2" cy="757.8" r="14.2"/>
<circle cx="1218.6" cy="747" r="14.2"/>
<circle cx="1223" cy="746.4" r="14.2"/>
<circle cx="1227.3" cy="746.5" r="14.2"/>
<circle cx="1231.7" cy="759.2" r="14.2"/>
<circle cx="1236.1" cy="758.1" r="14.2"/>
<circle cx="1240.5" cy="746.4" r="14.2"/>
<circle cx="1244.9" cy="759" r="14.2"/>
<circle cx="1249.3" cy="760.4" r="14.2"/>
<circle cx="1253.7" cy="757.2" r="14.2"/>
<circle cx="1258.1" cy="751.1" r="14.2"/>
<circle cx="1262.5" cy="755.8" r="14.2"/>
<circle cx="1266.9" cy="748.7" r="14.2"/>
<circle cx="1271.3" cy="748.5" r="14.2"/>
<circle cx="1275.7" cy="762.8" r="14.2"/>
<circle cx="1280" cy="759.5" r="14.2"/>
<circle cx="1284.4" cy="757.4" r="14.2"/>
<circle cx="1288.8" cy="764.1" r="14.2"/>
<circle cx="1293.2" cy="756.1" r="14.2"/>
<circle cx="1297.6" cy="764.4" r="14.2"/>
<circle cx="1302" cy="764.4" r="14.2"/>
<circle cx="1306.4" cy="753.1" r="14.2"/>
<circle cx="1310.8" cy="754" r="14.2"/>
<circle cx="1315.2" cy="755.1" r="14.2"/>
<circle cx="1319.6" cy="754.5" r="14.2"/>
<circle cx="1324" cy="761.8" r="14.2"/>
<circle cx="1328.4" cy="755.4" r="14.2"/>
<circle cx="1332.7" cy="758.7" r="14.2"/>
<circle cx="1337.1" cy="754.5" r="14.2"/>
<circle cx="1341.5" cy="767.9" r="14.2"/>
<circle cx="1345.9" cy="758.4" r="14.2"/>
<circle cx="1350.3" cy="760.9" r="14.2"/>
<circle cx="1354.7" cy="763.9" r="14.2"/>
<circle cx="1359.1" cy="769.2" r="14.2"/>
<circle cx="1363.5" cy="761" r="14.2"/>
<circle cx="1367.9" cy="769.9" r="14.2"/>
<circle cx="1372.3" cy="763.5" r="14.2"/>
<circle cx="1376.7" cy="764.4" r="14.2"/>
<circle cx="1381.1" cy="764.2" r="14.2"/>
<circle cx="1385.4" cy="756.9" r="14.2"/>
<circle cx="1389.8" cy="762.7" r="14.2"/>
<circle cx="1394.2" cy="758.1" r="14.2"/>
<circle cx="1398.6" cy="757.2" r="14.2"/>
<circle cx="1403" cy="769.9" r="14.2"/>
<circle cx="1407.4" cy="758.4" r="14.2"/>
<circle cx="1411.8" cy="763.9" r="14.2"/>
<circle cx="1416.2" cy="769.2" r="14.2"/>
<circle cx="1420.6" cy="766.2" r="14.2"/>
<circle cx="1425" cy="761.5" r="14.2"/>
<circle cx="1429.4" cy="765.9" r="14.2"/>
<circle cx="1433.8" cy="767" r="14.2"/>
<circle cx="1438.1" cy="771.5" r="14.2"/>
<circle cx="1442.5" cy="759.6" r="14.2"/>
<circle cx="1446.9" cy="767.9" r="14.2"/>
<circle cx="1451.3" cy="761.9" r="14.2"/>
<circle cx="1455.7" cy="762.7" r="14.2"/>
<circle cx="1460.1" cy="772.7" r="14.2"/>
<circle cx="1464.5" cy="767.7" r="14.2"/>
<circle cx="1468.9" cy="768.8" r="14.2"/>
<circle cx="1473.3" cy="772.3" r="14.2"/>
<circle cx="1477.7" cy="773.8" r="14.2"/>
<circle cx="1482.1" cy="765.7" r="14.2"/>
<circle cx="1486.5" cy="769.2" r="14.2"/>
<circle cx="1490.8" cy="766.8" r="14.2"/>
<circle cx="1495.2" cy="766.8" r="14.2"/>
<circle cx="1499.6" cy="770.5" r="14.2"/>
<circle cx="1504" cy="765.3" r="14.2"/>
<circle cx="1508.4" cy="767" r="14.2"/>
<circle cx="1512.8" cy="765.6" r="14.2"/>
<circle cx="1517.2" cy="773.4" r="14.2"/>
<circle cx="1521.6" cy="771.1" r="14.2"/>
<circle cx="1526" cy="773.8" r="14.2"/>
<circle cx="1530.4" cy="774.6" r="14.2"/>
<circle cx="1534.8" cy="763.3" r="14.2"/>
<circle cx="1539.2" cy="769.9" r="14.2"/>
<circle cx="1543.5" cy="775.8" r="14.2"/>
<circle cx="1547.9" cy="775.5" r="14.2"/>
<circle cx="1552.3" cy="763.3" r="14.2"/>
<circle cx="1556.7" cy="763.6" r="14.2"/>
<circle cx="1561.1" cy="769.2" r="14.2"/>
<circle cx="1565.5" cy="764.1" r="14.2"/>
<circle cx="1569.9" cy="766.2" r="14.2"/>
<circle cx="1574.3" cy="765" r="14.2"/>
<circle cx="1578.7" cy="775.6" r="14.2"/>
<circle cx="1583.1" cy="777.9" r="14.2"/>
<circle cx="1587.5" cy="779.5" r="14.2"/>
<circle cx="1591.9" cy="766" r="14.2"/>
<circle cx="1596.2" cy="775.9" r="14.2"/>
<circle cx="1600.6" cy="774.4" r="14.2"/>
<circle cx="1605" cy="764.1" r="14.2"/>
<circle cx="1609.4" cy="776.3" r="14.2"/>
<circle cx="1613.8" cy="776.1" r="14.2"/>
<circle cx="1618.2" cy="763.1" r="14.2"/>
<circle cx="1622.6" cy="774.9" r="14.2"/>
<circle cx="1627" cy="765.7" r="14.2"/>
<circle cx="1631.4" cy="768.2" r="14.2"/>
<circle cx="1635.8" cy="776.1" r="14.2"/>
<circle cx="1640.2" cy="775.8" r="14.2"/>
<circle cx="1644.6" cy="764.2" r="14.2"/>
<circle cx="1649" cy="769.4" r="14.2"/>
<circle cx="1653.3" cy="771.8" r="14.2"/>
<circle cx="1657.7" cy="768.8" r="14.2"/>
<circle cx="1662.1" cy="767" r="14.2"/>
<circle cx="1666.5" cy="769.5" r="14.2"/>
<circle cx="1670.9" cy="778.4" r="14.2"/>
<circle cx="1675.3" cy="767.6" r="14.2"/>
<circle cx="1679.7" cy="776.3" r="14.2"/>
<circle cx="1684.1" cy="774.4" r="14.2"/>
<circle cx="1688.5" cy="769.2" r="14.2"/>
<circle cx="1692.9" cy="773.4" r="14.2"/>
<circle cx="1697.3" cy="777.5" r="14.2"/>
</g>
</g>
<g stroke="#000000" stroke-width="4.6" fill="none">
<line x1="121.5" y1="351.3" x2="121.5" y2="1539.3"/>
<line x1="121.5" y1="1537" x2="1879.7" y2="1537"/>
<line x1="93.7" y1="1537" x2="121.5" y2="1537"/>
<line x1="107.7" y1="1418.7" x2="121.5" y2="1418.7"/>
<line x1="93.7" y1="1300.3" x2="121.5" y2="1300.3"/>
<line x1="107.7" y1="1182" x2="121.5" y2="1182"/>
<line x1="93.7" y1="1063.6" x2="121.5" y2="1063.6"/>
<line x1="107.7" y1="945.3" x2="121.5" y2="945.3"/>
<line x1="93.7" y1="827" x2="121.5" y2="827"/>
<line x1="107.7" y1="708.6" x2="121.5" y2="708.6"/>
<line x1="93.7" y1="590.3" x2="121.5" y2="590.3"/>
<line x1="107.7" y1="471.9" x2="121.5" y2="471.9"/>
<line x1="93.7" y1="353.6" x2="121.5" y2="353.6"/>
<line x1="121.5" y1="1537" x2="121.5" y2="1562.5"/>
<line x1="341.1" y1="1537" x2="341.1" y2="1549.5"/>
<line x1="560.7" y1="1537" x2="560.7" y2="1562.5"/>
<line x1="780.3" y1="1537" x2="780.3" y2="1549.5"/>
<line x1="999.9" y1="1537" x2="999.9" y2="1562.5"/>
<line x1="1219.4" y1="1537" x2="1219.4" y2="1549.5"/>
<line x1="1439" y1="1537" x2="1439" y2="1562.5"/>
<line x1="1658.6" y1="1537" x2="1658.6" y2="1549.5"/>
<line x1="1878.2" y1="1537" x2="1878.2" y2="1562.5"/>
</g>
<g stroke="#d81e22" stroke-width="4.6" fill="none">
<line x1="1878.2" y1="351.3" x2="1878.2" y2="1539.3"/>
<line x1="1878.2" y1="1537" x2="1903.7" y2="1537"/>
<line x1="1878.2" y1="1438.4" x2="1891" y2="1438.4"/>
<line x1="1878.2" y1="1339.8" x2="1903.7" y2="1339.8"/>
<line x1="1878.2" y1="1241.2" x2="1891" y2="1241.2"/>
<line x1="1878.2" y1="1142.5" x2="1903.7" y2="1142.5"/>
<line x1="1878.2" y1="1043.9" x2="1891" y2="1043.9"/>
<line x1="1878.2" y1="945.3" x2="1903.7" y2="945.3"/>
<line x1="1878.2" y1="846.7" x2="1891" y2="846.7"/>
<line x1="1878.2" y1="748.1" x2="1903.7" y2="748.1"/>
<line x1="1878.2" y1="649.4" x2="1891" y2="649.4"/>
<line x1="1878.2" y1="550.8" x2="1903.7" y2="550.8"/>
<line x1="1878.2" y1="452.2" x2="1891" y2="452.2"/>
<line x1="1878.2" y1="353.6" x2="1903.7" y2="353.6"/>
</g>
<g stroke="#1611f0" stroke-width="4.6" fill="none">
<line x1="2054.6" y1="351.3" x2="2054.6" y2="1539.3"/>
<line x1="2054.6" y1="1537" x2="2079.6" y2="1537"/>
<line x1="2054.6" y1="1418.7" x2="2067.1" y2="1418.7"/>
<line x1="2054.6" y1="1300.3" x2="2079.6" y2="1300.3"/>
<line x1="2054.6" y1="1182" x2="2067.1" y2="1182"/>
<line x1="2054.6" y1="1063.6" x2="2079.6" y2="1063.6"/>
<line x1="2054.6" y1="945.3" x2="2067.1" y2="945.3"/>
<line x1="2054.6" y1="827" x2="2079.6" y2="827"/>
<line x1="2054.6" y1="708.6" x2="2067.1" y2="708.6"/>
<line x1="2054.6" y1="590.3" x2="2079.6" y2="590.3"/>
<line x1="2054.6" y1="471.9" x2="2067.1" y2="471.9"/>
<line x1="2054.6" y1="353.6" x2="2079.6" y2="353.6"/>
</g>
<g clip-path="url(#plot)">
<path d="M121.5 471.9 L125.7 471.9 L129.8 471.9 L133 448.3 L137.3 448.3 L141.7 448.3 L146 448.3 L150 424.6 L154.5 424.6 L159 424.6 L163.5 424.6 L167.8 400.9 L172.4 400.9 L177 400.9 L181.5 400.9 L186.1 400.9 L190.7 400.9 L195.2 400.9 L199.8 400.9 L204.4 400.9 L207.9 424.6 L212.4 424.6 L216.9 424.6 L221.4 424.6 L225.9 424.6 L230.4 424.6 L234.9 424.6 L239.4 424.6 L243.9 424.6 L248.2 448.3 L252.6 448.3 L257 448.3 L261.5 448.3 L265.9 448.3 L270.3 448.3 L274.7 448.3 L279.2 448.3 L283.6 448.3 L288 448.3 L292.4 448.3 L296.9 448.3 L301.3 448.3 L305.7 448.3 L309.5 471.9 L314.1 471.9 L318.8 471.9 L323.4 471.9 L328 471.9 L332.7 471.9 L337.3 471.9 L341 495.6 L345.3 495.6 L349.6 495.6 L353.8 495.6 L358.1 495.6 L362.4 495.6 L366.7 495.6 L370.9 495.6 L375.2 495.6 L379.5 495.6 L384 471.9 L388.3 471.9 L392.6 471.9 L396.9 471.9 L401.1 471.9 L405.4 471.9 L409.7 471.9 L414 471.9 L418.5 448.3 L422.9 448.3 L427.3 448.3 L431.6 448.3 L436 448.3 L440.4 448.3 L444.8 448.3 L449.2 448.3 L453.6 448.3 L457.9 448.3 L462.3 448.3 L466.7 448.3 L471.1 448.3 L475.5 448.3 L479.9 448.3 L484.2 448.3 L488.6 448.3 L493 448.3 L497.4 448.3 L501.8 448.3 L506.2 448.3 L510.5 448.3 L514.9 448.3 L519.3 448.3 L523.7 448.3 L528.1 448.3 L532.4 448.3 L536.8 448.3 L541.2 448.3 L545.6 448.3 L550 448.3 L554.4 448.3 L558.7 448.3 L563.1 448.3 L567.5 448.3 L571.9 448.3 L576.3 448.3 L580.7 448.3 L585 448.3 L589.4 448.3 L593.8 448.3 L598.2 448.3 L602.6 448.3 L606.9 448.3 L611.3 448.3 L615.7 448.3 L620.1 448.3 L624.5 448.3 L628.9 448.3 L633.2 448.3 L637.6 448.3 L642 448.3 L646.4 448.3 L650.8 448.3 L655.2 448.3 L659.5 448.3 L663.9 448.3 L668.3 448.3 L672.7 448.3 L677.1 448.3 L681.5 448.3 L685.8 448.3 L690.2 448.3 L694.6 448.3 L699 448.3 L703.4 448.3 L707.7 448.3 L712.1 448.3 L716.5 448.3 L720.9 448.3 L725.3 448.3 L729.7 448.3 L734 448.3 L738.4 448.3 L742.8 448.3 L747.2 448.3 L751.6 448.3 L756 448.3 L760.3 448.3 L764.7 448.3 L769.1 448.3 L773.5 448.3 L777.9 448.3 L782.3 448.3 L786.6 448.3 L791 448.3 L795.4 448.3 L799.8 448.3 L804.2 448.3 L808.5 448.3 L812.9 448.3 L817.3 448.3 L821.7 448.3 L826.1 448.3 L830.5 448.3 L834.8 448.3 L839.2 448.3 L843.6 448.3 L848 448.3 L852.4 448.3 L856.8 448.3 L861.1 448.3 L865.5 448.3 L869.9 448.3 L874.3 448.3 L878.7 448.3 L883 448.3 L887.4 448.3 L891.8 448.3 L896.2 448.3 L900.6 448.3 L905 448.3 L909.3 448.3 L913.7 448.3 L918.1 448.3 L922.5 448.3 L926.9 448.3 L931.3 448.3 L935.6 448.3 L940 448.3 L944.4 448.3 L948.8 448.3 L953.2 448.3 L957.6 448.3 L961.9 448.3 L966.3 448.3 L970.7 448.3 L975.1 448.3 L979.5 448.3 L983.8 448.3 L988.2 448.3 L992.6 448.3 L997 448.3 L1001.4 448.3 L1005.8 448.3 L1010.1 448.3 L1014.5 448.3 L1018.9 448.3 L1023.3 448.3 L1027.7 448.3 L1032.1 448.3 L1036.4 448.3 L1040.8 448.3 L1045.2 448.3 L1049.6 448.3 L1054 448.3 L1058.3 448.3 L1062.7 448.3 L1067.1 448.3 L1071.5 448.3 L1075.9 448.3 L1080.3 448.3 L1084.6 448.3 L1089 448.3 L1093.4 448.3 L1097.8 448.3 L1102.2 448.3 L1106.6 448.3 L1110.9 448.3 L1115.3 448.3 L1119.7 448.3 L1124.1 448.3 L1128.5 448.3 L1132.9 448.3 L1137.2 448.3 L1141.6 448.3 L1146 448.3 L1150.4 448.3 L1154.8 448.3 L1159.1 448.3 L1163.5 448.3 L1167.9 448.3 L1172.3 448.3 L1176.7 448.3 L1181.1 448.3 L1185.4 448.3 L1189.8 448.3 L1194.2 448.3 L1198.6 448.3 L1203 448.3 L1207.4 448.3 L1211.7 448.3 L1216.1 448.3 L1220.5 448.3 L1224.9 448.3 L1229.3 448.3 L1233.7 448.3 L1238 448.3 L1242.4 448.3 L1246.8 448.3 L1251.2 448.3 L1255.6 448.3 L1259.9 448.3 L1264.3 448.3 L1268.7 448.3 L1273.1 448.3 L1277.5 448.3 L1281.9 448.3 L1286.2 448.3 L1290.6 448.3 L1295 448.3 L1299.4 448.3 L1303.8 448.3 L1308.2 448.3 L1312.5 448.3 L1316.9 448.3 L1321.3 448.3 L1325.7 448.3 L1330.1 448.3 L1334.4 448.3 L1338.8 448.3 L1343.2 448.3 L1347.6 448.3 L1352 448.3 L1356.4 448.3 L1360.7 448.3 L1365.1 448.3 L1369.5 448.3 L1373.9 448.3 L1378.3 448.3 L1382.7 448.3 L1387 448.3 L1391.4 448.3 L1395.8 448.3 L1400.2 448.3 L1404.6 448.3 L1409 448.3 L1413.3 448.3 L1417.7 448.3 L1422.1 448.3 L1426.5 448.3 L1430.9 448.3 L1435.2 448.3 L1439.6 448.3 L1444 448.3 L1448.4 448.3 L1452.8 448.3 L1457.2 448.3 L1461.5 448.3 L1465.9 448.3 L1470.3 448.3 L1474.7 448.3 L1479.1 448.3 L1483.5 448.3 L1487.8 448.3 L1492.2 448.3 L1496.6 448.3 L1501 448.3 L1505.4 448.3 L1509.8 448.3 L1514.1 448.3 L1518.5 448.3 L1522.9 448.3 L1527.3 448.3 L1531.7 448.3 L1536 448.3 L1540.4 448.3 L1544.8 448.3 L1549.2 448.3 L1553.6 448.3 L1558 448.3 L1562.3 448.3 L1566.7 448.3 L1571.1 448.3 L1575.5 448.3 L1579.9 448.3 L1584.3 448.3 L1588.6 448.3 L1593 448.3 L1597.4 448.3 L1601.8 448.3 L1606.2 448.3 L1610.5 448.3 L1614.9 448.3 L1619.3 448.3 L1623.7 448.3 L1628.1 448.3 L1632.5 448.3 L1636.8 448.3 L1641.2 448.3 L1645.6 448.3 L1650 448.3 L1654.4 448.3 L1658.8 448.3 L1663.1 448.3 L1667.5 448.3 L1671.9 448.3 L1676.3 448.3 L1680.7 448.3 L1685.1 448.3 L1689.4 448.3 L1693.8 448.3 L1698.2 448.3" fill="none" stroke="#0000ff" stroke-width="1.6"/>
<path d="M121.5 451.3l18 31h-36zM125.7 451.3l18 31h-36zM129.8 451.3l18 31h-36zM133 427.6l18 31h-36zM137.3 427.6l18 31h-36zM141.7 427.6l18 31h-36zM146 427.6l18 31h-36zM150 403.9l18 31h-36zM154.5 403.9l18 31h-36zM159 403.9l18 31h-36zM163.5 403.9l18 31h-36zM167.8 380.3l18 31h-36zM172.4 380.3l18 31h-36zM177 380.3l18 31h-36zM181.5 380.3l18 31h-36zM186.1 380.3l18 31h-36zM190.7 380.3l18 31h-36zM195.2 380.3l18 31h-36zM199.8 380.3l18 31h-36zM204.4 380.3l18 31h-36zM207.9 403.9l18 31h-36zM212.4 403.9l18 31h-36zM216.9 403.9l18 31h-36zM221.4 403.9l18 31h-36zM225.9 403.9l18 31h-36zM230.4 403.9l18 31h-36zM234.9 403.9l18 31h-36zM239.4 403.9l18 31h-36zM243.9 403.9l18 31h-36zM248.2 427.6l18 31h-36zM252.6 427.6l18 31h-36zM257 427.6l18 31h-36zM261.5 427.6l18 31h-36zM265.9 427.6l18 31h-36zM270.3 427.6l18 31h-36zM274.7 427.6l18 31h-36zM279.2 427.6l18 31h-36zM283.6 427.6l18 31h-36zM288 427.6l18 31h-36zM292.4 427.6l18 31h-36zM296.9 427.6l18 31h-36zM301.3 427.6l18 31h-36zM305.7 427.6l18 31h-36zM309.5 451.3l18 31h-36zM314.1 451.3l18 31h-36zM318.8 451.3l18 31h-36zM323.4 451.3l18 31h-36zM328 451.3l18 31h-36zM332.7 451.3l18 31h-36zM337.3 451.3l18 31h-36zM341 474.9l18 31h-36zM345.3 474.9l18 31h-36zM349.6 474.9l18 31h-36zM353.8 474.9l18 31h-36zM358.1 474.9l18 31h-36zM362.4 474.9l18 31h-36zM366.7 474.9l18 31h-36zM370.9 474.9l18 31h-36zM375.2 474.9l18 31h-36zM379.5 474.9l18 31h-36zM384 451.3l18 31h-36zM388.3 451.3l18 31h-36zM392.6 451.3l18 31h-36zM396.9 451.3l18 31h-36zM401.1 451.3l18 31h-36zM405.4 451.3l18 31h-36zM409.7 451.3l18 31h-36zM414 451.3l18 31h-36zM418.5 427.6l18 31h-36zM422.9 427.6l18 31h-36zM427.3 427.6l18 31h-36zM431.6 427.6l18 31h-36zM436 427.6l18 31h-36zM440.4 427.6l18 31h-36zM444.8 427.6l18 31h-36zM449.2 427.6l18 31h-36zM453.6 427.6l18 31h-36zM457.9 427.6l18 31h-36zM462.3 427.6l18 31h-36zM466.7 427.6l18 31h-36zM471.1 427.6l18 31h-36zM475.5 427.6l18 31h-36zM479.9 427.6l18 31h-36zM484.2 427.6l18 31h-36zM488.6 427.6l18 31h-36zM493 427.6l18 31h-36zM497.4 427.6l18 31h-36zM501.8 427.6l18 31h-36zM506.2 427.6l18 31h-36zM510.5 427.6l18 31h-36zM514.9 427.6l18 31h-36zM519.3 427.6l18 31h-36zM523.7 427.6l18 31h-36zM528.1 427.6l18 31h-36zM532.4 427.6l18 31h-36zM536.8 427.6l18 31h-36zM541.2 427.6l18 31h-36zM545.6 427.6l18 31h-36zM550 427.6l18 31h-36zM554.4 427.6l18 31h-36zM558.7 427.6l18 31h-36zM563.1 427.6l18 31h-36zM567.5 427.6l18 31h-36zM571.9 427.6l18 31h-36zM576.3 427.6l18 31h-36zM580.7 427.6l18 31h-36zM585 427.6l18 31h-36zM589.4 427.6l18 31h-36zM593.8 427.6l18 31h-36zM598.2 427.6l18 31h-36zM602.6 427.6l18 31h-36zM606.9 427.6l18 31h-36zM611.3 427.6l18 31h-36zM615.7 427.6l18 31h-36zM620.1 427.6l18 31h-36zM624.5 427.6l18 31h-36zM628.9 427.6l18 31h-36zM633.2 427.6l18 31h-36zM637.6 427.6l18 31h-36zM642 427.6l18 31h-36zM646.4 427.6l18 31h-36zM650.8 427.6l18 31h-36zM655.2 427.6l18 31h-36zM659.5 427.6l18 31h-36zM663.9 427.6l18 31h-36zM668.3 427.6l18 31h-36zM672.7 427.6l18 31h-36zM677.1 427.6l18 31h-36zM681.5 427.6l18 31h-36zM685.8 427.6l18 31h-36zM690.2 427.6l18 31h-36zM694.6 427.6l18 31h-36zM699 427.6l18 31h-36zM703.4 427.6l18 31h-36zM707.7 427.6l18 31h-36zM712.1 427.6l18 31h-36zM716.5 427.6l18 31h-36zM720.9 427.6l18 31h-36zM725.3 427.6l18 31h-36zM729.7 427.6l18 31h-36zM734 427.6l18 31h-36zM738.4 427.6l18 31h-36zM742.8 427.6l18 31h-36zM747.2 427.6l18 31h-36zM751.6 427.6l18 31h-36zM756 427.6l18 31h-36zM760.3 427.6l18 31h-36zM764.7 427.6l18 31h-36zM769.1 427.6l18 31h-36zM773.5 427.6l18 31h-36zM777.9 427.6l18 31h-36zM782.3 427.6l18 31h-36zM786.6 427.6l18 31h-36zM791 427.6l18 31h-36zM795.4 427.6l18 31h-36zM799.8 427.6l18 31h-36zM804.2 427.6l18 31h-36zM808.5 427.6l18 31h-36zM812.9 427.6l18 31h-36zM817.3 427.6l18 31h-36zM821.7 427.6l18 31h-36zM826.1 427.6l18 31h-36zM830.5 427.6l18 31h-36zM834.8 427.6l18 31h-36zM839.2 427.6l18 31h-36zM843.6 427.6l18 31h-36zM848 427.6l18 31h-36zM852.4 427.6l18 31h-36zM856.8 427.6l18 31h-36zM861.1 427.6l18 31h-36zM865.5 427.6l18 31h-36zM869.9 427.6l18 31h-36zM874.3 427.6l18 31h-36zM878.7 427.6l18 31h-36zM883 427.6l18 31h-36zM887.4 427.6l18 31h-36zM891.8 427.6l18 31h-36zM896.2 427.6l18 31h-36zM900.6 427.6l18 31h-36zM905 427.6l18 31h-36zM909.3 427.6l18 31h-36zM913.7 427.6l18 31h-36zM918.1 427.6l18 31h-36zM922.5 427.6l18 31h-36zM926.9 427.6l18 31h-36zM931.3 427.6l18 31h-36zM935.6 427.6l18 31h-36zM940 427.6l18 31h-36zM944.4 427.6l18 31h-36zM948.8 427.6l18 31h-36zM953.2 427.6l18 31h-36zM957.6 427.6l18 31h-36zM961.9 427.6l18 31h-36zM966.3 427.6l18 31h-36zM970.7 427.6l18 31h-36zM975.1 427.6l18 31h-36zM979.5 427.6l18 31h-36zM983.8 427.6l18 31h-36zM988.2 427.6l18 31h-36zM992.6 427.6l18 31h-36zM997 427.6l18 31h-36zM1001.4 427.6l18 31h-36zM1005.8 427.6l18 31h-36zM1010.1 427.6l18 31h-36zM1014.5 427.6l18 31h-36zM1018.9 427.6l18 31h-36zM1023.3 427.6l18 31h-36zM1027.7 427.6l18 31h-36zM1032.1 427.6l18 31h-36zM1036.4 427.6l18 31h-36zM1040.8 427.6l18 31h-36zM1045.2 427.6l18 31h-36zM1049.6 427.6l18 31h-36zM1054 427.6l18 31h-36zM1058.3 427.6l18 31h-36zM1062.7 427.6l18 31h-36zM1067.1 427.6l18 31h-36zM1071.5 427.6l18 31h-36zM1075.9 427.6l18 31h-36zM1080.3 427.6l18 31h-36zM1084.6 427.6l18 31h-36zM1089 427.6l18 31h-36zM1093.4 427.6l18 31h-36zM1097.8 427.6l18 31h-36zM1102.2 427.6l18 31h-36zM1106.6 427.6l18 31h-36zM1110.9 427.6l18 31h-36zM1115.3 427.6l18 31h-36zM1119.7 427.6l18 31h-36zM1124.1 427.6l18 31h-36zM1128.5 427.6l18 31h-36zM1132.9 427.6l18 31h-36zM1137.2 427.6l18 31h-36zM1141.6 427.6l18 31h-36zM1146 427.6l18 31h-36zM1150.4 427.6l18 31h-36zM1154.8 427.6l18 31h-36zM1159.1 427.6l18 31h-36zM1163.5 427.6l18 31h-36zM1167.9 427.6l18 31h-36zM1172.3 427.6l18 31h-36zM1176.7 427.6l18 31h-36zM1181.1 427.6l18 31h-36zM1185.4 427.6l18 31h-36zM1189.8 427.6l18 31h-36zM1194.2 427.6l18 31h-36zM1198.6 427.6l18 31h-36zM1203 427.6l18 31h-36zM1207.4 427.6l18 31h-36zM1211.7 427.6l18 31h-36zM1216.1 427.6l18 31h-36zM1220.5 427.6l18 31h-36zM1224.9 427.6l18 31h-36zM1229.3 427.6l18 31h-36zM1233.7 427.6l18 31h-36zM1238 427.6l18 31h-36zM1242.4 427.6l18 31h-36zM1246.8 427.6l18 31h-36zM1251.2 427.6l18 31h-36zM1255.6 427.6l18 31h-36zM1259.9 427.6l18 31h-36zM1264.3 427.6l18 31h-36zM1268.7 427.6l18 31h-36zM1273.1 427.6l18 31h-36zM1277.5 427.6l18 31h-36zM1281.9 427.6l18 31h-36zM1286.2 427.6l18 31h-36zM1290.6 427.6l18 31h-36zM1295 427.6l18 31h-36zM1299.4 427.6l18 31h-36zM1303.8 427.6l18 31h-36zM1308.2 427.6l18 31h-36zM1312.5 427.6l18 31h-36zM1316.9 427.6l18 31h-36zM1321.3 427.6l18 31h-36zM1325.7 427.6l18 31h-36zM1330.1 427.6l18 31h-36zM1334.4 427.6l18 31h-36zM1338.8 427.6l18 31h-36zM1343.2 427.6l18 31h-36zM1347.6 427.6l18 31h-36zM1352 427.6l18 31h-36zM1356.4 427.6l18 31h-36zM1360.7 427.6l18 31h-36zM1365.1 427.6l18 31h-36zM1369.5 427.6l18 31h-36zM1373.9 427.6l18 31h-36zM1378.3 427.6l18 31h-36zM1382.7 427.6l18 31h-36zM1387 427.6l18 31h-36zM1391.4 427.6l18 31h-36zM1395.8 427.6l18 31h-36zM1400.2 427.6l18 31h-36zM1404.6 427.6l18 31h-36zM1409 427.6l18 31h-36zM1413.3 427.6l18 31h-36zM1417.7 427.6l18 31h-36zM1422.1 427.6l18 31h-36zM1426.5 427.6l18 31h-36zM1430.9 427.6l18 31h-36zM1435.2 427.6l18 31h-36zM1439.6 427.6l18 31h-36zM1444 427.6l18 31h-36zM1448.4 427.6l18 31h-36zM1452.8 427.6l18 31h-36zM1457.2 427.6l18 31h-36zM1461.5 427.6l18 31h-36zM1465.9 427.6l18 31h-36zM1470.3 427.6l18 31h-36zM1474.7 427.6l18 31h-36zM1479.1 427.6l18 31h-36zM1483.5 427.6l18 31h-36zM1487.8 427.6l18 31h-36zM1492.2 427.6l18 31h-36zM1496.6 427.6l18 31h-36zM1501 427.6l18 31h-36zM1505.4 427.6l18 31h-36zM1509.8 427.6l18 31h-36zM1514.1 427.6l18 31h-36zM1518.5 427.6l18 31h-36zM1522.9 427.6l18 31h-36zM1527.3 427.6l18 31h-36zM1531.7 427.6l18 31h-36zM1536 427.6l18 31h-36zM1540.4 427.6l18 31h-36zM1544.8 427.6l18 31h-36zM1549.2 427.6l18 31h-36zM1553.6 427.6l18 31h-36zM1558 427.6l18 31h-36zM1562.3 427.6l18 31h-36zM1566.7 427.6l18 31h-36zM1571.1 427.6l18 31h-36zM1575.5 427.6l18 31h-36zM1579.9 427.6l18 31h-36zM1584.3 427.6l18 31h-36zM1588.6 427.6l18 31h-36zM1593 427.6l18 31h-36zM1597.4 427.6l18 31h-36zM1601.8 427.6l18 31h-36zM1606.2 427.6l18 31h-36zM1610.5 427.6l18 31h-36zM1614.9 427.6l18 31h-36zM1619.3 427.6l18 31h-36zM1623.7 427.6l18 31h-36zM1628.1 427.6l18 31h-36zM1632.5 427.6l18 31h-36zM1636.8 427.6l18 31h-36zM1641.2 427.6l18 31h-36zM1645.6 427.6l18 31h-36zM1650 427.6l18 31h-36zM1654.4 427.6l18 31h-36zM1658.8 427.6l18 31h-36zM1663.1 427.6l18 31h-36zM1667.5 427.6l18 31h-36zM1671.9 427.6l18 31h-36zM1676.3 427.6l18 31h-36zM1680.7 427.6l18 31h-36zM1685.1 427.6l18 31h-36zM1689.4 427.6l18 31h-36zM1693.8 427.6l18 31h-36zM1698.2 427.6l18 31h-36z" fill="#0000ff"/>
</g>
<g class="tick" fill="#000000" text-anchor="end">
<text x="79" y="1551.5">0</text>
<text x="79" y="1315.3">2</text>
<text x="79" y="1079.2">4</text>
<text x="79" y="843">6</text>
<text x="79" y="606.9">8</text>
<text x="79" y="370.7">10</text>
</g>
<g class="tick" fill="#000000" text-anchor="middle">
<text x="121" y="1621">0</text>
<text x="560.2" y="1621">1000</text>
<text x="999.4" y="1621">2000</text>
<text x="1438.5" y="1621">3000</text>
<text x="1877.7" y="1621">4000</text>
</g>
<g class="tick" fill="#d81e22" text-anchor="start">
<text x="1919.5" y="1551.5">0</text>
<text x="1919.5" y="1354.7">20</text>
<text x="1919.5" y="1157.9">40</text>
<text x="1919.5" y="961.1">60</text>
<text x="1919.5" y="764.3">80</text>
<text x="1919.5" y="567.5">100</text>
<text x="1919.5" y="370.7">120</text>
</g>
<g class="tick" fill="#1611f0" text-anchor="start">
<text x="2094.5" y="1551.5">0</text>
<text x="2094.5" y="1315.3">10</text>
<text x="2094.5" y="1079.2">20</text>
<text x="2094.5" y="843">30</text>
<text x="2094.5" y="606.9">40</text>
<text x="2094.5" y="370.7">50</text>
</g>
<text class="ttl" x="1003.5" y="310.5" text-anchor="middle" fill="#000">MMPL 50%RH Fan 14V</text>
<text class="ttl" x="1000.3" y="1722" text-anchor="middle" fill="#000">Time (s)</text>
<path d="M1544.5 53.6 H1577.5 M1617 53.6 H1652.7" stroke="#303030" stroke-width="2.4" fill="none"/>
<path d="M1544.5 119.4 H1577.5 M1617 119.4 H1652.7" stroke="#c84040" stroke-width="2.4" fill="none"/>
<path d="M1544.5 179 H1577.5 M1617 179 H1652.7" stroke="#4848f0" stroke-width="2.4" fill="none"/>
<rect x="1583.7" y="40.1" width="27" height="27" fill="#000"/>
<circle cx="1597.2" cy="119.4" r="14.3" fill="#ff0000"/>
<path d="M1597.2 158.3l18 31h-36z" fill="#0000ff"/>
<g class="leg" fill="#000">
<text x="1663.8" y="69.4">Power (W)</text>
<text x="1663.8" y="135" style="font-size:48.1px">Power Density (mW/cm<tspan font-size="30" dy="-23.5" dx="-1">2</tspan><tspan dy="23.5" dx="3">)</tspan></text>
<text x="1664" y="194.5" style="font-size:48.8px">Temp.</text>
</g>
</svg>
</body></html>
